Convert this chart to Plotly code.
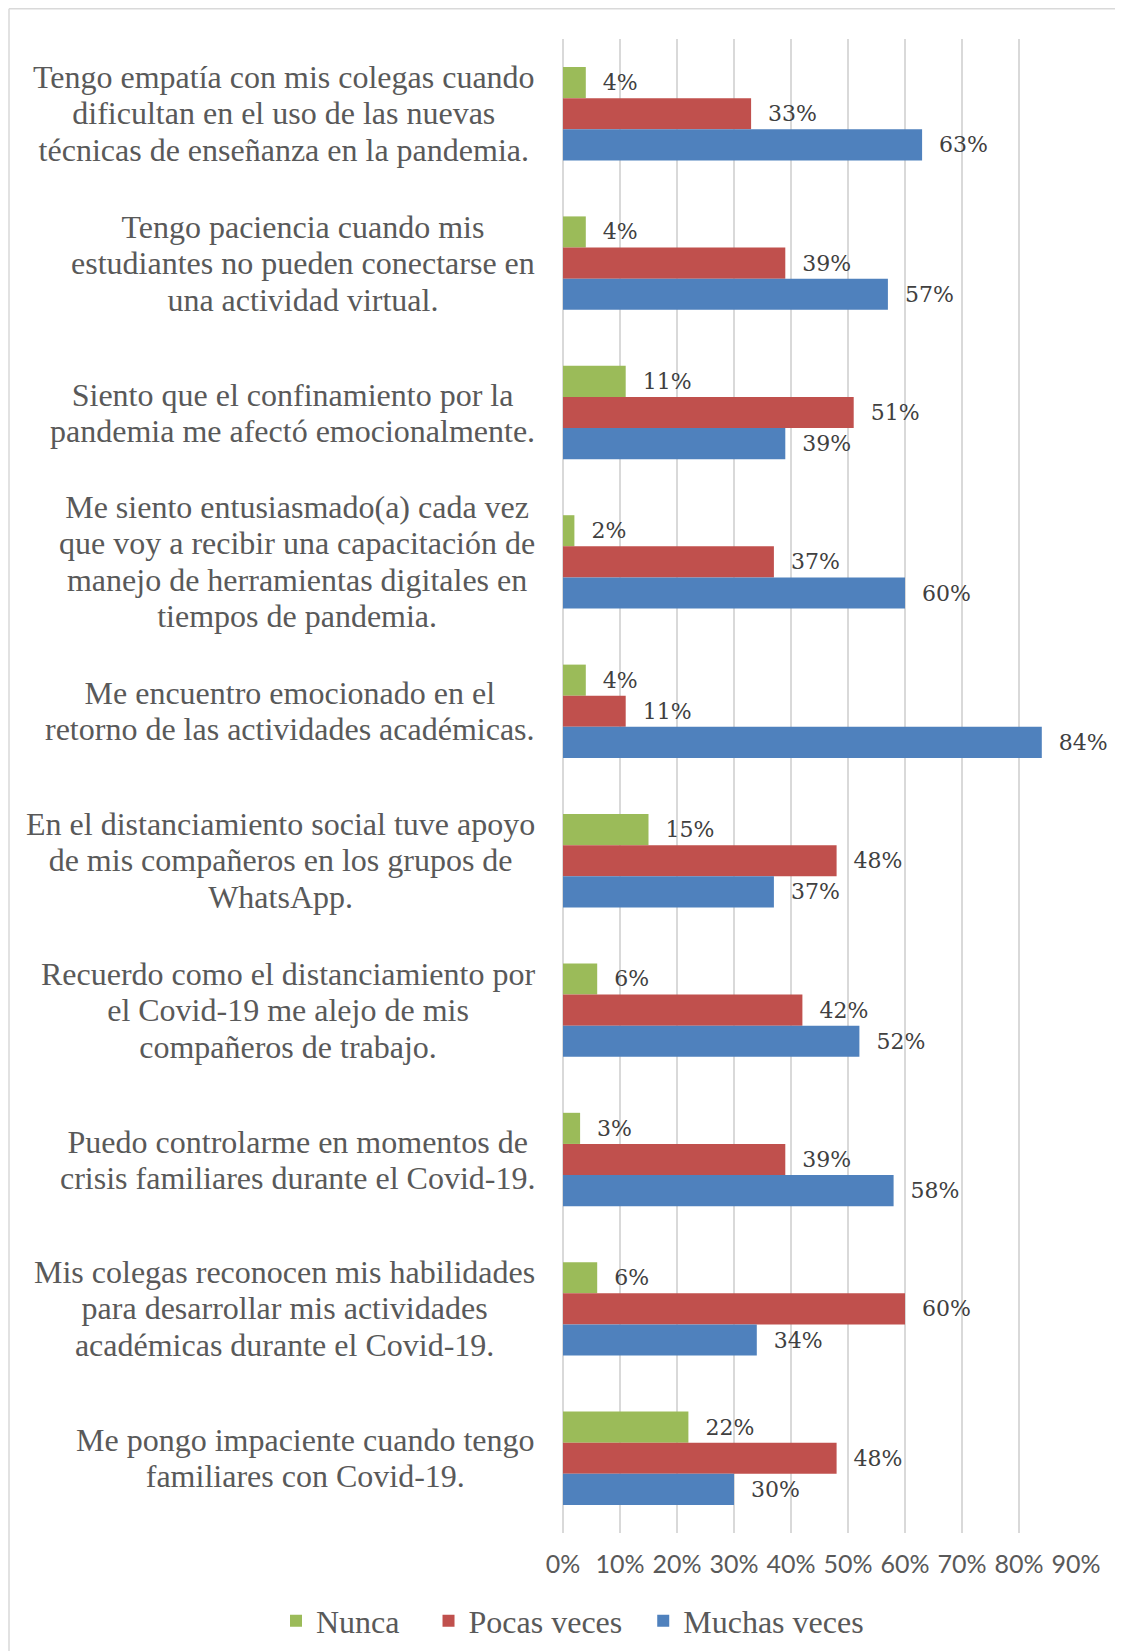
import plotly.graph_objects as go

categories = [
    "Tengo empatía con mis colegas cuando<br>dificultan en el uso de las nuevas<br>técnicas de enseñanza en la pandemia.",
    "Tengo paciencia cuando mis<br>estudiantes no pueden conectarse en<br>una actividad virtual.",
    "Siento que el confinamiento por la<br>pandemia me afectó emocionalmente.",
    "Me siento entusiasmado(a) cada vez<br>que voy a recibir una capacitación de<br>manejo de herramientas digitales en<br>tiempos de pandemia.",
    "Me encuentro emocionado en el<br>retorno de las actividades académicas.",
    "En el distanciamiento social tuve apoyo<br>de mis compañeros en los grupos de<br>WhatsApp.",
    "Recuerdo como el distanciamiento por<br>el Covid-19 me alejo de mis<br>compañeros de trabajo.",
    "Puedo controlarme en momentos de<br>crisis familiares durante el Covid-19.",
    "Mis colegas reconocen mis habilidades<br>para desarrollar mis actividades<br>académicas durante el Covid-19.",
    "Me pongo impaciente cuando tengo<br>familiares con Covid-19.",
]
cat_ids = [f"c{i}" for i in range(len(categories))]

nunca = [4, 4, 11, 2, 4, 15, 6, 3, 6, 22]
pocas = [33, 39, 51, 37, 11, 48, 42, 39, 60, 48]
muchas = [63, 57, 39, 60, 84, 37, 52, 58, 34, 30]

series_names = ["Nunca", "Pocas veces", "Muchas veces"]
series_values = [nunca, pocas, muchas]
series_colors = ["#9BBB59", "#C0504D", "#4F81BD"]
legend_pad = ["\u00a0\u00a0\u00a0", "\u00a0\u00a0", ""]

tick_vals = list(range(0, 100, 10))
tick_text = [f"{v}%" for v in tick_vals]

W, H = 1123, 1651
L, R, T, B = 555, 55, 31, 126
pw = W - L - R
ph = H - T - B

fig = go.Figure()
for name, pad, vals, col in zip(series_names, legend_pad, series_values, series_colors):
    fig.add_trace(go.Bar(
        y=cat_ids, x=vals, orientation="h", name=name + pad,
        marker=dict(color=col, line=dict(width=0)),
        text=[f"\u00a0\u00a0{v}%" for v in vals],
        textposition="outside", cliponaxis=False, constraintext="none",
        textfont=dict(family="DejaVu Serif", size=22, color="#404040"),
        hoverinfo="skip",
    ))

CAT_FONT = 32
annotations = []
for cid, label in zip(cat_ids, categories):
    text = "<br>".join(f"<span style='font-size:{CAT_FONT}px'>{ln}</span>" for ln in label.split("<br>"))
    annotations.append(dict(
        x=(529 - L) / pw, xref="paper", y=cid, yref="y",
        xanchor="right", yanchor="middle", align="center",
        text=text, showarrow=False,
        font=dict(family="Liberation Serif, Times New Roman, serif", size=28, color="#595959"),
    ))

top_y = (H - B - 0.75) / ph
left_x = (1 - L) / pw
shapes = [
    dict(type="line", xref="paper", yref="paper",
         x0=left_x, x1=left_x, y0=top_y, y1=-(B + 5) / ph,
         line=dict(color="#D9D9D9", width=1.5)),
    dict(type="line", xref="paper", yref="paper",
         x0=left_x, x1=(W + 5 - L) / pw, y0=top_y, y1=top_y,
         line=dict(color="#D9D9D9", width=1.5)),
]

fig.update_layout(
    width=W, height=H,
    margin=dict(l=L, r=R, t=T, b=B, autoexpand=False),
    paper_bgcolor="white", plot_bgcolor="white",
    barmode="group", bargap=0.375, bargroupgap=0,
    xaxis=dict(range=[0, 90], tickvals=tick_vals, ticktext=tick_text,
               showgrid=True, gridcolor="#D9D9D9", gridwidth=1.5,
               zeroline=True, zerolinecolor="#D9D9D9", zerolinewidth=1.5,
               showline=False, ticks="outside", ticklen=0, tickcolor="white",
               ticklabelstandoff=9,
               tickfont=dict(family="Lato", size=25, color="#595959")),
    yaxis=dict(categoryorder="array", categoryarray=cat_ids, autorange="reversed",
               showticklabels=False, showgrid=False, zeroline=False, showline=False),
    legend=dict(orientation="h", xref="paper", yref="paper",
                x=(268 - L) / pw, xanchor="left", y=(H - B - 1613) / ph, yanchor="middle",
                font=dict(family="Liberation Serif, Times New Roman, serif", size=32, color="#595959"),
                itemclick=False),
    annotations=annotations,
    shapes=shapes,
)

fig.write_html("out.html")
